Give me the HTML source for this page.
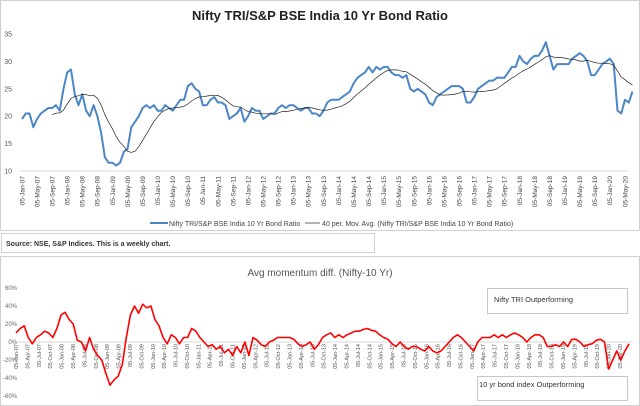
<!DOCTYPE html>
<html><head><meta charset="utf-8"><style>
body{margin:0;background:#fff;width:640px;height:406px;overflow:hidden;font-family:"Liberation Sans",sans-serif}
svg{display:block}
</style></head><body>
<svg width="640" height="406" viewBox="0 0 640 406">
<rect x="0.5" y="0.5" width="639" height="230" fill="#fff" stroke="#d0d0d0"/>
<text x="320" y="20" text-anchor="middle" font-size="13" font-weight="bold" fill="#222">Nifty TRI/S&amp;P BSE India 10 Yr Bond Ratio</text>
<g id="topY" font-size="7" fill="#555"></g>
<g id="topX" font-size="6.5" fill="#444"></g>
<line x1="20" y1="171" x2="628" y2="171" stroke="#d9d9d9"/>
<g id="topLines"></g>
<g>
<line x1="150" y1="223" x2="168" y2="223" stroke="#4a86c8" stroke-width="2"/>
<text x="169" y="226" font-size="7" fill="#444">Nifty TRI/S&amp;P BSE India 10 Yr Bond Ratio</text>
<line x1="305" y1="223" x2="320" y2="223" stroke="#222" stroke-width="0.7"/>
<text x="322" y="226" font-size="7" fill="#444">40 per. Mov. Avg. (Nifty TRI/S&amp;P BSE India 10 Yr Bond Ratio)</text>
</g>
<rect x="1.5" y="233.5" width="373" height="19" fill="#fff" stroke="#d0d0d0"/>
<text x="6" y="246" font-size="7" font-weight="bold" fill="#333">Source: NSE,  S&amp;P Indices.  This is a weekly chart.</text>
<rect x="0.5" y="256.5" width="639" height="149" fill="#fff" stroke="#d0d0d0"/>
<text x="320" y="276" text-anchor="middle" font-size="10" fill="#555">Avg momentum diff. (Nifty-10 Yr)</text>
<g id="botY" font-size="6" fill="#666"></g>
<line x1="17" y1="342" x2="633" y2="342" stroke="#d9d9d9"/>
<g id="botX" font-size="5.5" fill="#555"></g>
<g id="botLines"></g>
<rect x="487.5" y="288.5" width="140" height="25" fill="#fff" stroke="#c8c8c8"/>
<text x="494" y="302" font-size="7.5" fill="#333">Nifty  TRI Outperforming</text>
<rect x="477.5" y="376.5" width="150" height="24" fill="#fff" stroke="#c8c8c8"/>
<text x="479" y="387" font-size="7.5" fill="#333">10 yr bond index Outperforming</text>
</svg>
<script>
const ratio=[19.5,20.5,20.5,18,19.5,20.5,21,21.5,21.5,22,21,25,
28,28.5,24,22,24,21,20,22,20,17,12.5,11.5,
11.5,11,11.5,13.5,14,18,19,20,21.5,22,21.5,22,
21,21,22,21.5,21,22,23,23,25.5,26,25,24.5,
22,22,23,23.5,22.5,22.5,22,19.5,20,20.5,21.5,19,
20,21.5,21,21,19.5,20,20.5,20.5,21.5,22,21.5,22,
22,21.5,21,21.5,21.5,20.5,20.5,20,21,22.5,23,23,
23,23.5,24,24.5,26,27,27.5,28,29,28,29,28.5,
29,29,28,27.5,27.5,27,27.5,25,24.5,25,24.5,24,
22.5,22,23.5,24,24.5,25,25.5,25.5,25.5,25,22.5,22.5,
23.5,25,25.5,26,26.5,26.5,27,27,27,28,29,29,
31,30,29.5,30.5,31,31,32,33.5,31,28.5,29.5,29.5,
29.5,29.5,30.5,31,31.5,31,30,27.5,27.5,28.5,29.5,30,
30.5,29.5,21,20.5,23,22.5,24.5];
const maWindow=9;
const topYTicks=[10,15,20,25,30,35];
const topXLabels=[];
const mons=["Jan","May","Sep"];
for(let y=7;y<=20;y++)for(const m of mons)topXLabels.push("05-"+m+"-"+String(y).padStart(2,"0"));
topXLabels.length=41;

const momentum=[10,15,18,5,-2,5,8,12,10,5,15,30,33,25,20,2,0,-10,5,-8,-15,-20,-35,-48,-42,-38,-25,5,30,40,32,42,38,40,25,18,5,-2,8,5,-2,5,5,15,12,5,0,-5,-3,-8,-5,-12,-8,-15,-5,-12,0,-15,5,2,-3,-5,0,2,5,5,5,5,3,-2,-5,-3,0,-8,-3,5,8,10,5,8,5,8,10,12,12,14,15,13,12,8,5,3,-2,-5,0,-5,-8,-5,-5,-8,-10,-5,-10,-12,-10,-5,0,5,8,5,0,-5,-10,0,5,5,5,8,5,8,5,8,10,8,5,0,5,8,8,5,-5,-5,-3,-5,0,-5,3,3,0,-5,-3,-2,2,3,0,-30,-20,-10,-20,-10,-2];
const botYTicks=[-60,-40,-20,0,20,40,60];
const botXLabels=[];
const qm=["Jan","Apr","Jul","Oct"];
for(let y=7;y<=20;y++)for(const m of qm)botXLabels.push("05-"+m+"-"+String(y).padStart(2,"0"));
botXLabels.length=54;

const NS="http://www.w3.org/2000/svg";
function mk(tag,attrs,parent,text){const e=document.createElementNS(NS,tag);for(const k in attrs)e.setAttribute(k,attrs[k]);if(text!==undefined)e.textContent=text;parent.appendChild(e);return e;}
const tyS=v=>171-(v-10)*(137/25);
const txS=i=>22+i*(603/160);
const gY=document.getElementById('topY');
topYTicks.forEach(v=>{const t=mk('text',{x:12,y:tyS(v)+2.5,'text-anchor':'end'},gY,String(v));

});
const gX=document.getElementById('topX');
topXLabels.forEach((l,i)=>{const x=txS(i*4);const t=mk('text',{transform:`translate(${x+2.3},176) rotate(-90)`,'text-anchor':'end'},gX,l);

});
const gL=document.getElementById('topLines');
const rp=mk('polyline',{points:ratio.map((v,i)=>txS(i).toFixed(1)+","+tyS(v).toFixed(1)).join(" "),fill:"none",stroke:"#4a86c8","stroke-width":2,"stroke-linejoin":"round"},gL);


const ma=[];for(let i=maWindow-1;i<ratio.length;i++){let s=0;for(let j=i-maWindow+1;j<=i;j++)s+=ratio[j];ma.push([i,s/maWindow]);}
const mp=mk('polyline',{points:ma.map(([i,v])=>txS(i).toFixed(1)+","+tyS(v).toFixed(1)).join(" "),fill:"none",stroke:"#222","stroke-width":0.7},gL);


const byS=v=>342-v*(54/60);
const bxS=i=>16+i*((629-16)/(momentum.length-1));
const bY=document.getElementById('botY');
botYTicks.forEach(v=>{const t=mk('text',{x:17,y:byS(v)+2,'text-anchor':'end'},bY,v+"%");

});
const bX=document.getElementById('botX');
const lxS=i=>16+i*((620-16)/53);
botXLabels.forEach((l,i)=>{const t=mk('text',{transform:`translate(${lxS(i)+2},344) rotate(-90)`,'text-anchor':'end'},bX,l);

});
const bL=document.getElementById('botLines');
const mo=mk('polyline',{points:momentum.map((v,i)=>bxS(i).toFixed(1)+","+byS(v).toFixed(1)).join(" "),fill:"none",stroke:"#ff0000","stroke-width":1.6,"stroke-linejoin":"round"},bL);


</script>
</body></html>
